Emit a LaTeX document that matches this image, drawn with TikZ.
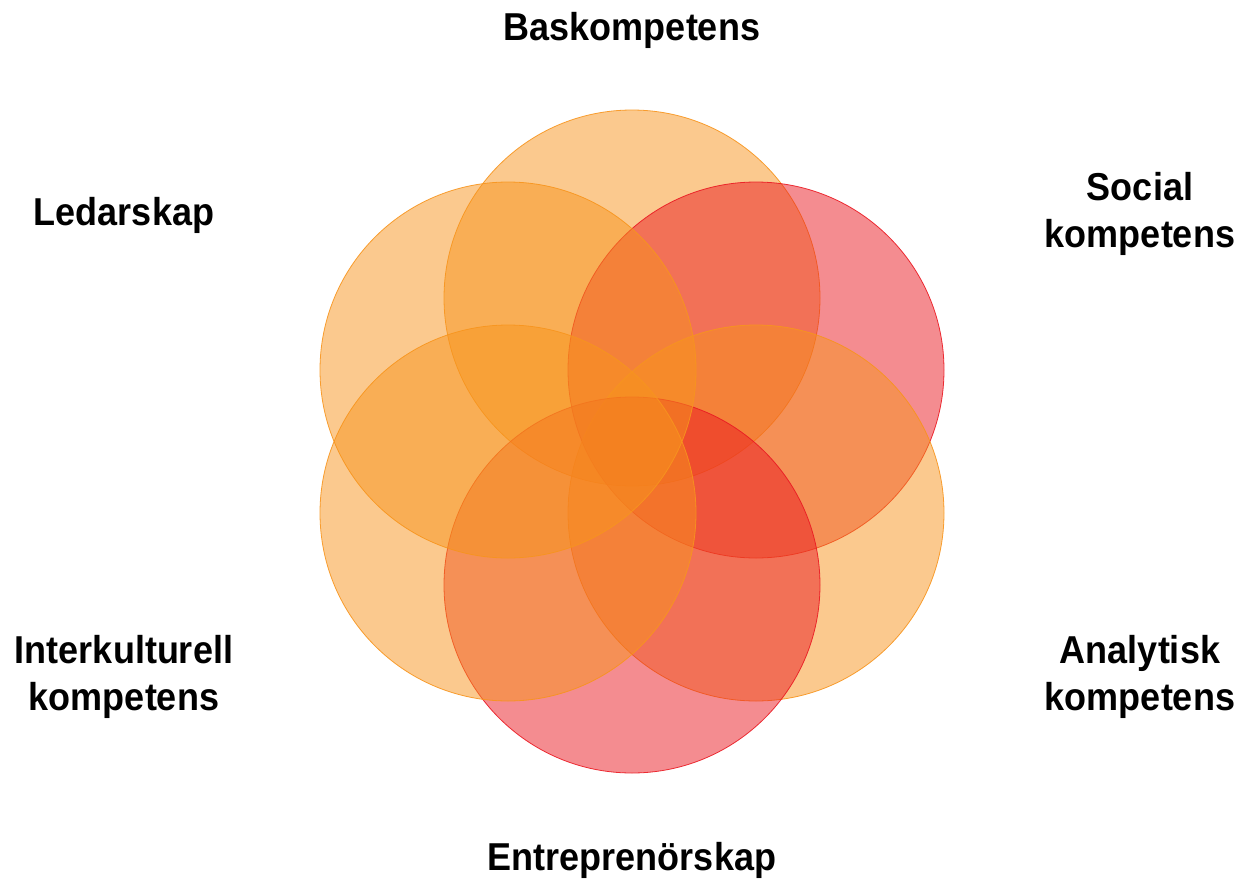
\documentclass[tikz,border=0pt]{standalone}
\usepackage{fontspec}
\setmainfont{Liberation Sans}
\definecolor{orng}{RGB}{247,148,29}
\definecolor{rd}{RGB}{234,26,34}
\tikzset{
  ocirc/.style={circle,minimum size=376pt,inner sep=0pt,fill=orng,fill opacity=0.5,draw=orng,draw opacity=0.9,line width=0.8pt},
  rcirc/.style={circle,minimum size=376pt,inner sep=0pt,fill=rd,fill opacity=0.5,draw=rd,draw opacity=0.9,line width=0.8pt},
  lbl/.style={font=\fontsize{36}{43}\selectfont\bfseries,align=center,inner sep=0pt,yscale=1.08}
}
\begin{document}
\begin{tikzpicture}[x=1pt,y=-1pt]
\useasboundingbox (0,0) rectangle (1243,879);
\node[ocirc] (c1) at (632,298) {};
\node[rcirc] (c2) at (756,370) {};
\node[ocirc] (c3) at (756,513) {};
\node[rcirc] (c4) at (632,585) {};
\node[ocirc] (c5) at (508,513) {};
\node[ocirc] (c6) at (508,370) {};
\node[lbl] (t1) at (632,30) {Baskompetens};
\node[lbl] (t2) at (1140,214) {Social\\kompetens};
\node[lbl] (t3) at (1140,677) {Analytisk\\kompetens};
\node[lbl] (t4) at (632,860) {Entreprenörskap};
\node[lbl] (t5) at (124,677) {Interkulturell\\kompetens};
\node[lbl] (t6) at (124,215) {Ledarskap};
\end{tikzpicture}
\end{document}
